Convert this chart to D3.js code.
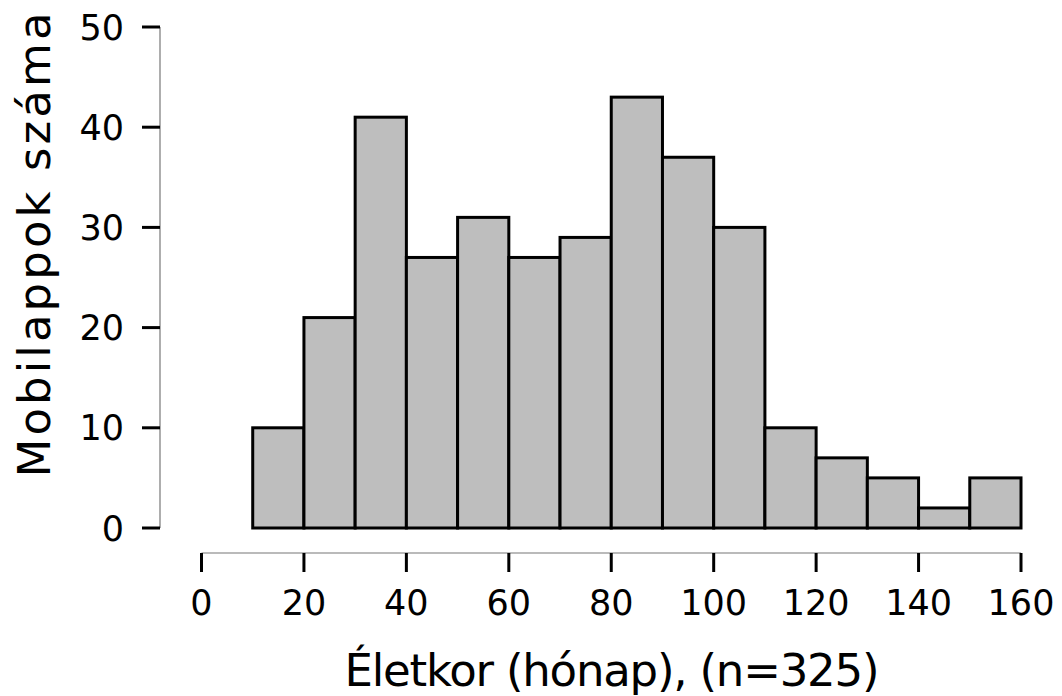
<!DOCTYPE html>
<html>
<head>
<meta charset="utf-8">
<script src="https://cdn.jsdelivr.net/npm/d3@7"></script>
<style>
  body { margin: 0; background: #fff; }
  text { font-family: "DejaVu Sans", sans-serif; fill: #000; }
</style>
</head>
<body>
<div id="vis"></div>
<script>
const binStarts = [10, 20, 30, 40, 50, 60, 70, 80, 90, 100, 110, 120, 130, 140, 150];
const binWidth = 10;
const counts = [10, 21, 41, 27, 31, 27, 29, 43, 37, 30, 10, 7, 5, 2, 5];
const xTicks = [0, 20, 40, 60, 80, 100, 120, 140, 160];
const yTicks = [0, 10, 20, 30, 40, 50];
const xTitle = "Életkor (hónap), (n=325)";
const yTitle = "Mobilappok száma";

const [width, height] = [1062, 696];
const fs = 35;   // tick labels
const tfs = 45;  // axis titles

const x = d3.scaleLinear().domain([0, 160]).range([201.5, 1021]);
const y = d3.scaleLinear().domain([0, 50]).range([528, 27]);

const svg = d3.select('#vis').append('svg')
  .attr('width', width).attr('height', height);

// bars
svg.append('g').selectAll('rect')
  .data(binStarts.map((s, i) => ({s, n: counts[i]})))
  .join('rect')
    .attr('x', d => x(d.s))
    .attr('y', d => y(d.n))
    .attr('width', d => x(d.s + binWidth) - x(d.s))
    .attr('height', d => y(0) - y(d.n))
    .attr('fill', '#bebebe')
    .attr('stroke', '#000')
    .attr('stroke-width', 3);

// y axis
const yAxisX = 160;
const gy = svg.append('g');
gy.append('line')
  .attr('x1', yAxisX).attr('x2', yAxisX)
  .attr('y1', y(0)).attr('y2', y(50))
  .attr('stroke', '#777').attr('stroke-width', 1.2);
gy.selectAll('line.tick').data(yTicks).join('line')
  .attr('class', 'tick')
  .attr('x1', 142).attr('x2', yAxisX)
  .attr('y1', d => y(d)).attr('y2', d => y(d))
  .attr('stroke', '#000').attr('stroke-width', 3);
gy.selectAll('text').data(yTicks).join('text')
  .attr('x', 124).attr('y', d => y(d))
  .attr('dy', '0.36em')
  .attr('text-anchor', 'end')
  .attr('font-size', fs)
  .text(d => d);

// x axis
const xAxisY = 553;
const gx = svg.append('g');
gx.append('line')
  .attr('x1', x(0)).attr('x2', x(160))
  .attr('y1', xAxisY).attr('y2', xAxisY)
  .attr('stroke', '#777').attr('stroke-width', 1.2);
gx.selectAll('line.tick').data(xTicks).join('line')
  .attr('class', 'tick')
  .attr('x1', d => x(d)).attr('x2', d => x(d))
  .attr('y1', xAxisY).attr('y2', 572)
  .attr('stroke', '#000').attr('stroke-width', 3);
gx.selectAll('text').data(xTicks).join('text')
  .attr('x', d => x(d)).attr('y', 615)
  .attr('text-anchor', 'middle')
  .attr('font-size', fs)
  .text(d => d);

// titles
svg.append('text')
  .attr('x', 612).attr('y', 686)
  .attr('text-anchor', 'middle')
  .attr('font-size', tfs)
  .attr('textLength', 535)
  .attr('lengthAdjust', 'spacing')
  .text(xTitle);
svg.append('text')
  .attr('transform', `translate(50,245) rotate(-90)`)
  .attr('text-anchor', 'middle')
  .attr('font-size', tfs)
  .attr('textLength', 465)
  .attr('lengthAdjust', 'spacing')
  .text(yTitle);
</script>
</body>
</html>
